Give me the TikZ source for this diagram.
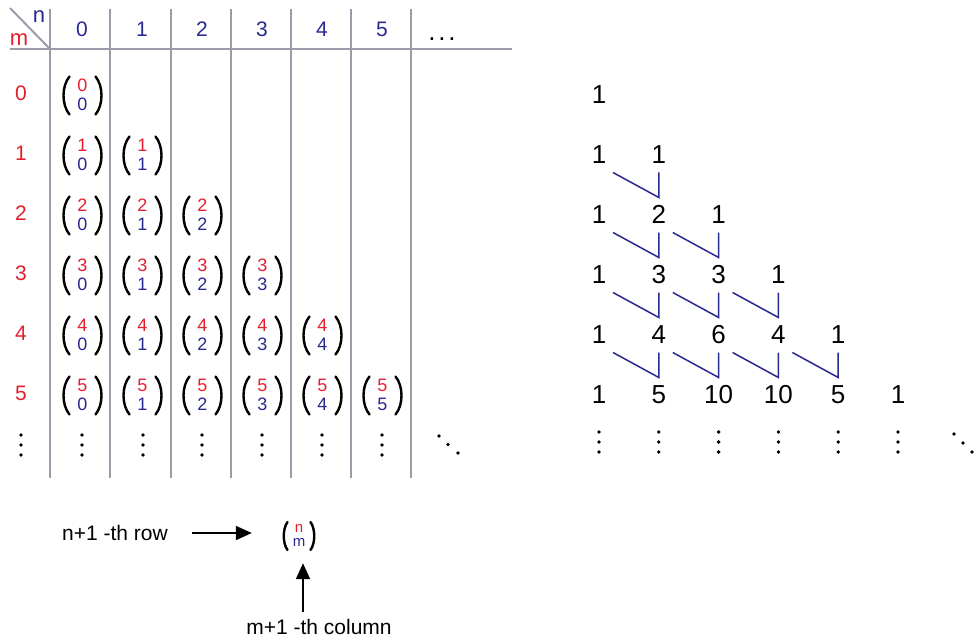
\documentclass[tikz,border=0pt]{standalone}
\usepackage{fontspec}
\setmainfont{Liberation Sans}
\usetikzlibrary{arrows.meta,calc}
\definecolor{myred}{RGB}{228,30,45}
\definecolor{myblue}{RGB}{40,40,145}
\definecolor{gridgray}{RGB}{155,155,170}
\newcommand\myparens[5]{% x, y(center), half-width(end), half-height, control offset
  \draw[paren] (#1-#3,#2-#4) .. controls (#1-#3-#5,#2-#4*0.5) and (#1-#3-#5,#2+#4*0.5) .. (#1-#3,#2+#4);
  \draw[paren] (#1+#3,#2-#4) .. controls (#1+#3+#5,#2-#4*0.5) and (#1+#3+#5,#2+#4*0.5) .. (#1+#3,#2+#4);
}
\begin{document}
\begin{tikzpicture}[x=1pt,y=-1pt,
  grid/.style={draw=gridgray, line width=2pt},
  hdr/.style={text=myblue, font=\fontsize{21}{21}\selectfont, inner sep=0},
  rowlab/.style={text=myred, font=\fontsize{21}{21}\selectfont, inner sep=0},
  small/.style={font=\fontsize{18}{18}\selectfont, inner sep=0},
  paren/.style={line width=2.4pt, line cap=round},
  tri/.style={font=\fontsize{26}{26}\selectfont, inner sep=0},
  hook/.style={draw=myblue, line width=1.5pt},
  lab/.style={font=\fontsize{21}{21}\selectfont, inner sep=0},
  arr/.style={line width=2pt, -{Triangle[length=16pt,width=14pt]}}
]
\useasboundingbox (0,0) rectangle (974,639);
% ---------- table grid ----------
\draw[grid] (10,49) -- (512,49);
\draw[grid] (10,8) -- (50,49);
\foreach \gx in {50,110,171,231,291,351,411}
  \draw[grid] (\gx,9) -- (\gx,478);
% header
\node[text=myblue, font=\fontsize{22}{22}\selectfont, inner sep=0] (hn) at (39,17) {n};
\node[text=myred, font=\fontsize{22}{22}\selectfont, inner sep=0] (hm) at (19,40) {m};
\foreach \k in {0,...,5}
  \node[hdr] (h-\k) at (82+60*\k,29) {\k};
\node[font=\fontsize{26}{26}\selectfont, inner sep=0, anchor=base] (hdots) at (442,40.5) {.\hspace{2.8pt}.\hspace{2.8pt}.};
% rows with binomials
\foreach \m in {0,...,5}{
  \pgfmathsetmacro\yy{93.5+60*\m}
  \node[rowlab] (r-\m) at (21,\yy) {\m};
  \foreach \k in {0,...,\m}{
    \pgfmathsetmacro\xx{82.5+60*\k}
    \node[small,text=myred] (b-\m-\k-t) at (\xx,\yy-8) {\m};
    \node[small,text=myblue] (b-\m-\k-b) at (\xx,\yy+11) {\k};
    \myparens{\xx}{\yy+2}{13}{19}{8}
  }
}
% vertical dots in table
\foreach \dx in {21,82,143,202,262,322,382}
  \foreach \dy in {435,445,455}
    \fill (\dx,\dy) circle (1.9);
\foreach \dx/\dy in {439/436,448/444.5,458/453}
  \fill (\dx,\dy) circle (1.9);
% ---------- Pascal triangle ----------
\foreach \r/\vals in {0/{1},1/{1,1},2/{1,2,1},3/{1,3,3,1},4/{1,4,6,4,1},5/{1,5,10,10,5,1}}{
  \foreach \v [count=\k from 0] in \vals
    \node[tri] (t-\r-\k) at (599+59.8*\k,94.5+60*\r) {\v};
}
\foreach \r in {1,...,4}{
  \foreach \k [evaluate=\k as \km using int(\k-1)] in {1,...,\r}
    \draw[hook] ([shift={(14,18)}]t-\r-\km.center) -- ([shift={(0,43)}]t-\r-\k.center) -- ([shift={(0,18)}]t-\r-\k.center);
}
\foreach \k in {0,...,5}
  \foreach \dy in {432,442,452}
    \fill (599+59.8*\k,\dy) circle (1.9);
\foreach \dx/\dy in {954/434,963/443,972/452}
  \fill (\dx,\dy) circle (1.9);
% ---------- legend ----------
\node[lab] (rowtxt) at (115,533) {n+1 -th row};
\node[inner sep=0, minimum width=34pt, minimum height=28pt] (nm) at (299,537) {};
\node[font=\fontsize{15}{15}\selectfont, inner sep=0, text=myred] (nm-t) at (299,528) {n};
\node[font=\fontsize{15}{15}\selectfont, inner sep=0, text=myblue] (nm-b) at (299,542) {m};
\myparens{299}{536}{11.5}{14}{5}
\draw[arr] ([xshift=24pt]rowtxt.east) -- ([xshift=-30pt]nm.west |- rowtxt.east);
\node[lab] (coltxt) at (319,627) {m+1 -th column};
\coordinate (colstart) at (303,612);
\coordinate (nmbot) at ([yshift=-12pt]nm.south);
\draw[arr] (colstart) -- (colstart |- nmbot);
\end{tikzpicture}
\end{document}
